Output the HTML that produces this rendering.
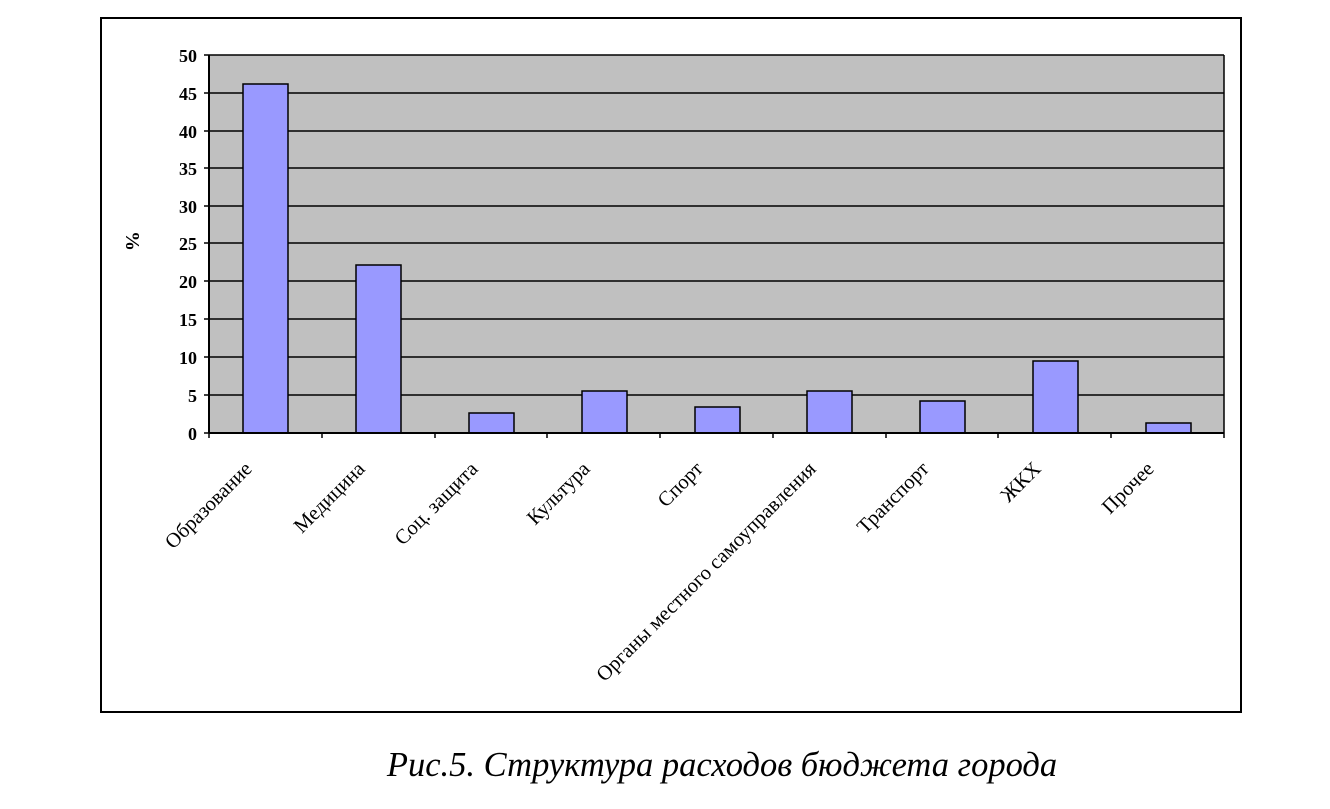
<!DOCTYPE html>
<html><head><meta charset="utf-8"><style>body{margin:0;background:#fff}</style></head><body>
<svg width="1330" height="804" xmlns="http://www.w3.org/2000/svg" font-family="Liberation Serif, serif">
<rect x="101" y="18" width="1140" height="694" fill="#fff" stroke="#000" stroke-width="2"/>
<rect x="209" y="55" width="1015" height="378" fill="#c0c0c0"/>
<g stroke="#000" stroke-width="1.5">
<line x1="209" y1="55" x2="1224" y2="55"/><line x1="209" y1="93" x2="1224" y2="93"/>
<line x1="209" y1="131" x2="1224" y2="131"/><line x1="209" y1="168" x2="1224" y2="168"/>
<line x1="209" y1="206" x2="1224" y2="206"/><line x1="209" y1="243" x2="1224" y2="243"/>
<line x1="209" y1="281" x2="1224" y2="281"/><line x1="209" y1="319" x2="1224" y2="319"/>
<line x1="209" y1="357" x2="1224" y2="357"/><line x1="209" y1="395" x2="1224" y2="395"/>
<line x1="1224" y1="55" x2="1224" y2="433"/>
</g>
<g fill="#9999ff" stroke="#000" stroke-width="1.5">
<rect x="243" y="84" width="45" height="349"/>
<rect x="356" y="265" width="45" height="168"/>
<rect x="469" y="413" width="45" height="20"/>
<rect x="582" y="391" width="45" height="42"/>
<rect x="695" y="407" width="45" height="26"/>
<rect x="807" y="391" width="45" height="42"/>
<rect x="920" y="401" width="45" height="32"/>
<rect x="1033" y="361" width="45" height="72"/>
<rect x="1146" y="423" width="45" height="10"/>
</g>
<g stroke="#000" stroke-width="2">
<line x1="209" y1="55" x2="209" y2="433"/><line x1="209" y1="433" x2="1224" y2="433"/>
</g>
<g stroke="#000" stroke-width="1.5">
<line x1="204" y1="55" x2="209" y2="55"/><line x1="204" y1="93" x2="209" y2="93"/><line x1="204" y1="131" x2="209" y2="131"/><line x1="204" y1="168" x2="209" y2="168"/><line x1="204" y1="206" x2="209" y2="206"/><line x1="204" y1="243" x2="209" y2="243"/><line x1="204" y1="281" x2="209" y2="281"/><line x1="204" y1="319" x2="209" y2="319"/><line x1="204" y1="357" x2="209" y2="357"/><line x1="204" y1="395" x2="209" y2="395"/><line x1="204" y1="433" x2="209" y2="433"/>
<line x1="209" y1="433" x2="209" y2="438"/><line x1="322" y1="433" x2="322" y2="438"/><line x1="435" y1="433" x2="435" y2="438"/><line x1="547" y1="433" x2="547" y2="438"/><line x1="660" y1="433" x2="660" y2="438"/><line x1="773" y1="433" x2="773" y2="438"/><line x1="886" y1="433" x2="886" y2="438"/><line x1="998" y1="433" x2="998" y2="438"/><line x1="1111" y1="433" x2="1111" y2="438"/><line x1="1224" y1="433" x2="1224" y2="438"/>
</g>
<g font-size="18" font-weight="bold" text-anchor="end">
<text x="197" y="62">50</text><text x="197" y="100">45</text><text x="197" y="138">40</text><text x="197" y="175">35</text><text x="197" y="213">30</text><text x="197" y="250">25</text><text x="197" y="288">20</text><text x="197" y="326">15</text><text x="197" y="364">10</text><text x="197" y="402">5</text><text x="197" y="440">0</text>
</g>
<text transform="translate(126,241) rotate(90)" font-size="20" font-weight="bold" text-anchor="middle">%</text>
<g font-size="20.6" text-anchor="end">
<text transform="translate(253,470) rotate(-45)">Образование</text>
<text transform="translate(366,470) rotate(-45)">Медицина</text>
<text transform="translate(479,470) rotate(-45)">Соц. защита</text>
<text transform="translate(591,470) rotate(-45)">Культура</text>
<text transform="translate(704,470) rotate(-45)">Спорт</text>
<text transform="translate(817,470) rotate(-45)">Органы местного самоуправления</text>
<text transform="translate(930,470) rotate(-45)">Транспорт</text>
<text transform="translate(1042,470) rotate(-45)">ЖКХ</text>
<text transform="translate(1155,470) rotate(-45)">Прочее</text>
</g>
<text x="722" y="776" font-size="34.5" font-style="italic" text-anchor="middle">Рис.5. Структура расходов бюджета города</text>
</svg>
</body></html>
